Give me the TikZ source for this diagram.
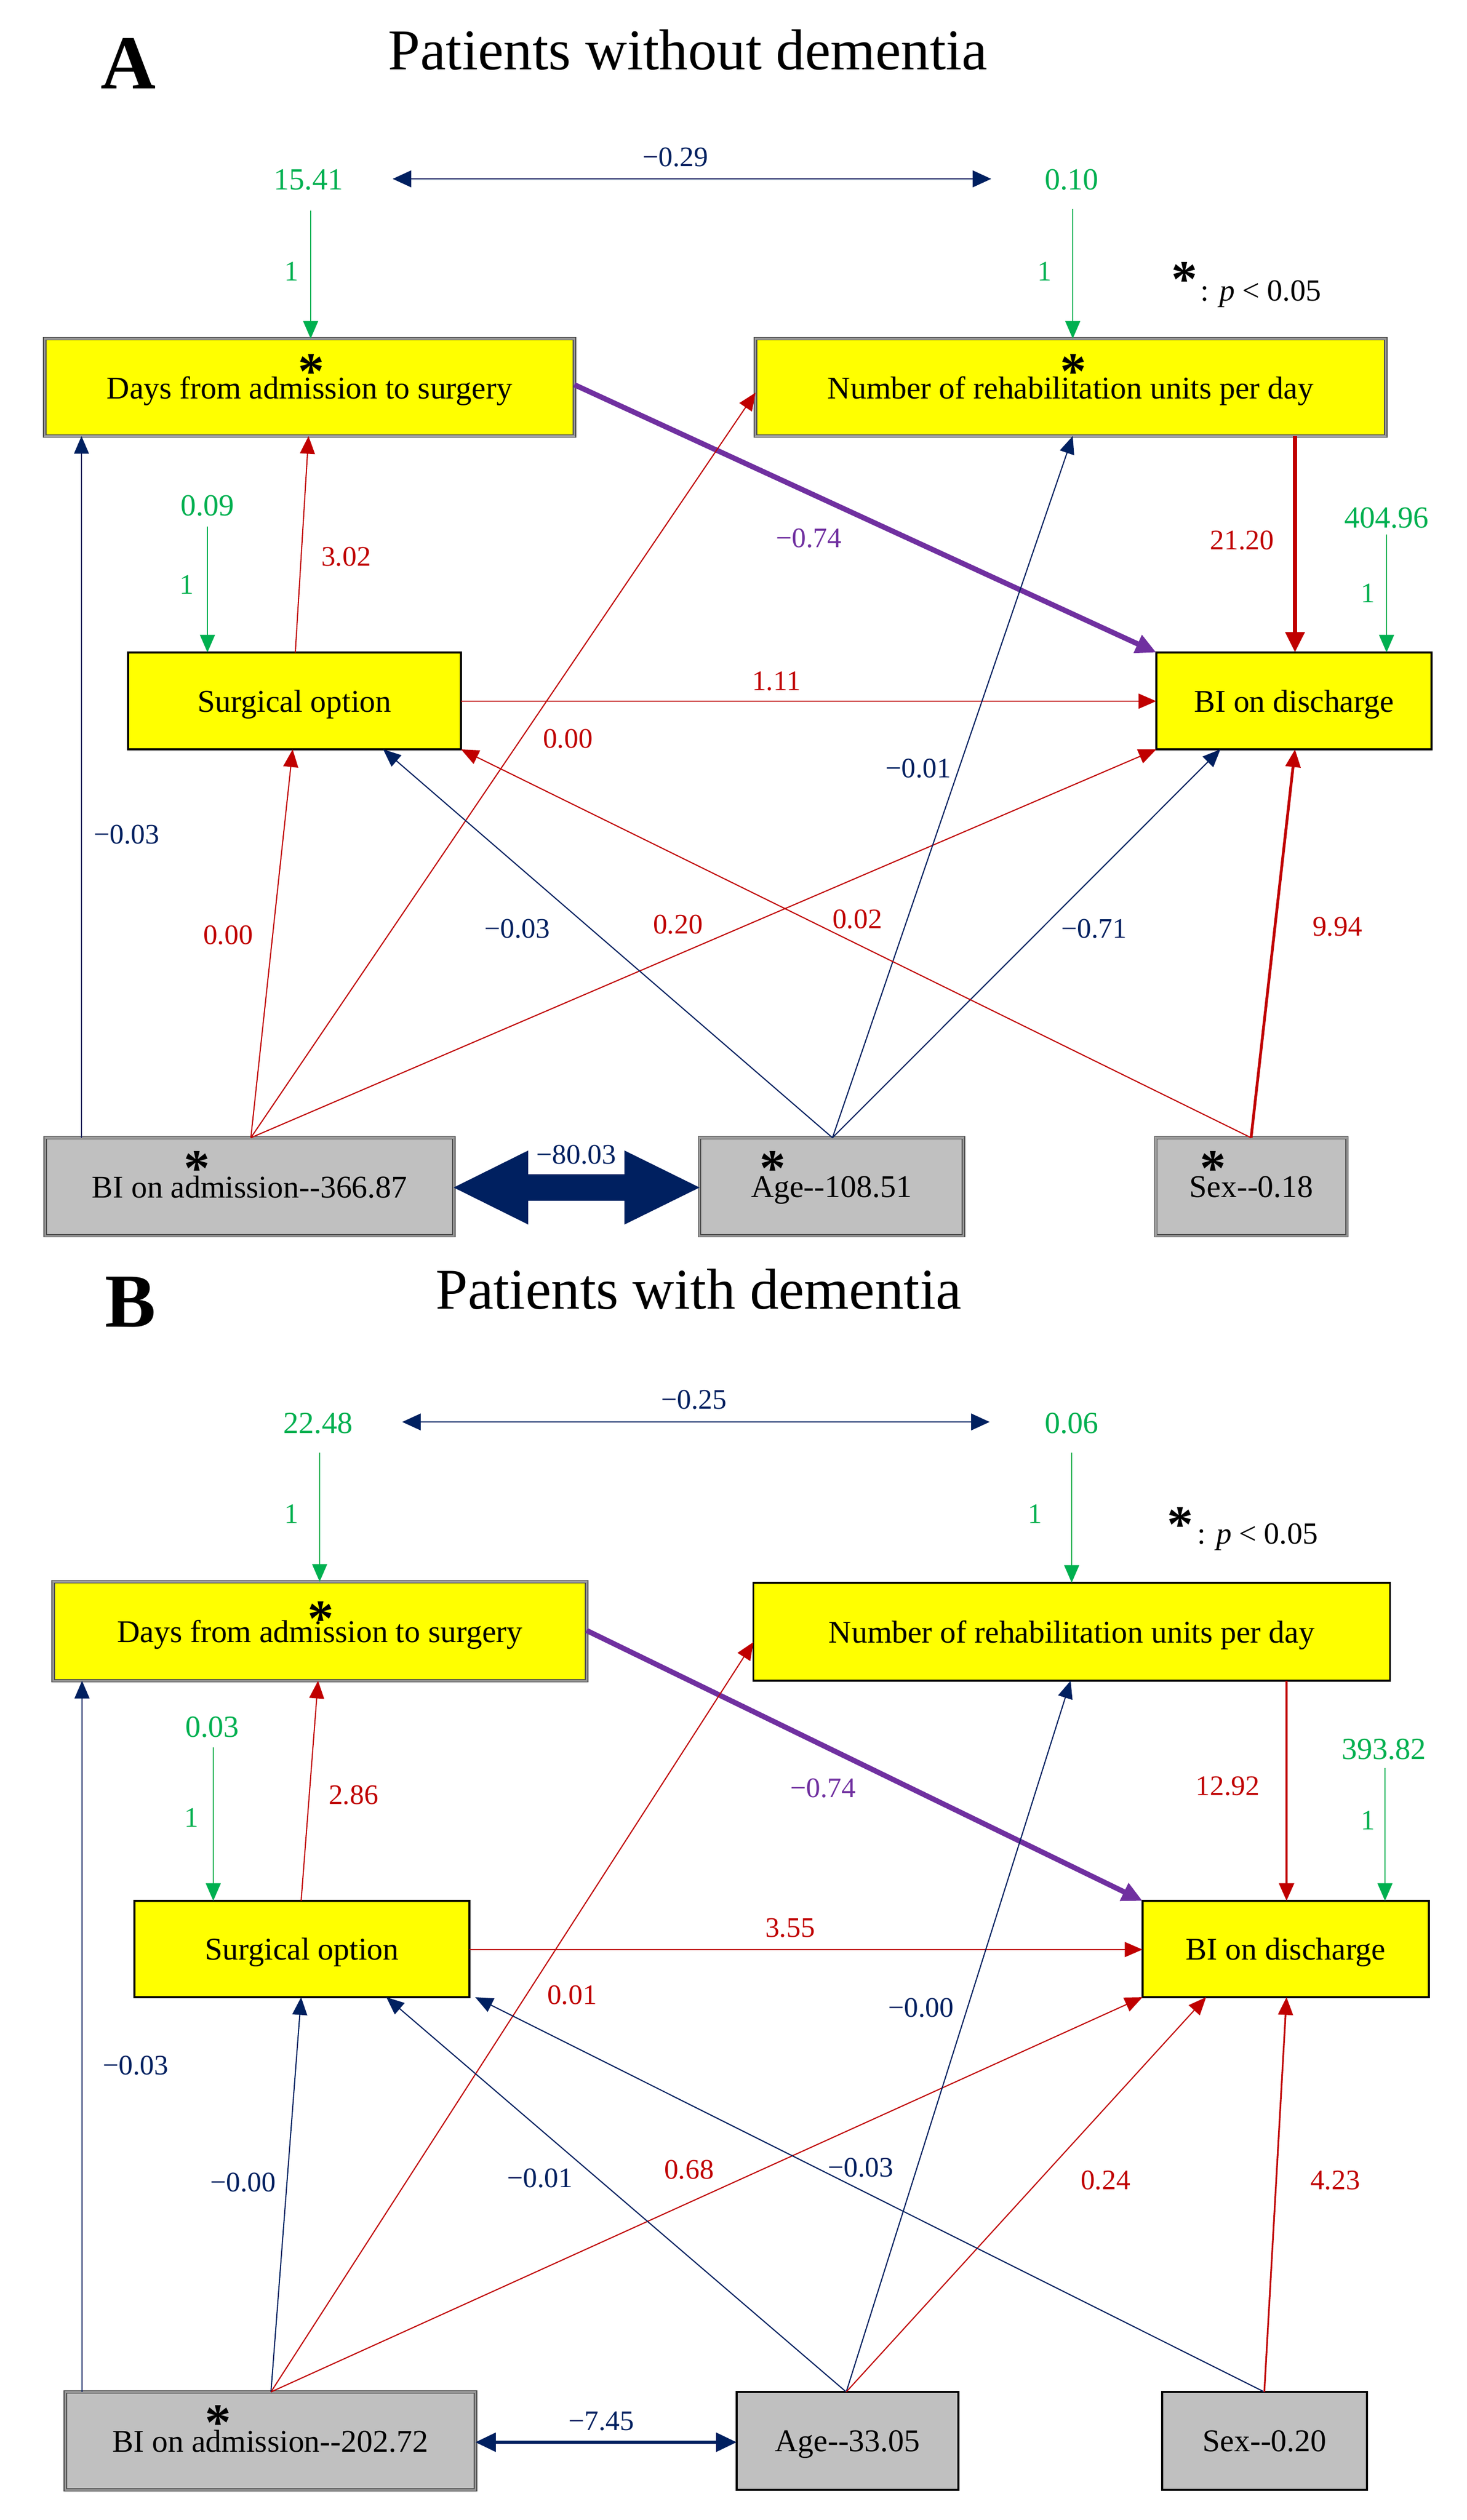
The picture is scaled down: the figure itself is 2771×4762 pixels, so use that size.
\documentclass[tikz,border=0pt]{standalone}
\usepackage{fontspec}
\setmainfont{Liberation Serif}
\usetikzlibrary{arrows.meta,calc}
\definecolor{cred}{HTML}{C00000}
\definecolor{cnavy}{HTML}{002060}
\definecolor{cgreen}{HTML}{00B050}
\definecolor{cpurple}{HTML}{7030A0}
\definecolor{cyel}{HTML}{FFFF00}
\definecolor{cgray}{HTML}{C0C0C0}
\newcommand\boxfs{\fontsize{17}{20}\selectfont}
\newcommand\labfs{\fontsize{15.2}{18}\selectfont}
\newcommand\grnfs{\fontsize{16.5}{19}\selectfont}
\newcommand\astfs{\fontsize{28}{30}\selectfont\bfseries}
\begin{document}
\begin{tikzpicture}[x=0.01cm,y=-0.01cm,
  bx/.style={rectangle,inner sep=0pt,outer sep=0pt,font=\boxfs,text=black,text depth=0pt},
  plainb/.style={bx,draw=black,line width=1pt},
  sigb/.style={bx,draw=black!70,double=black!40,double distance=0.9pt,line width=0.5pt},
  yel/.style={fill=cyel},
  gry/.style={fill=cgray},
  arr/.style={-{Triangle[length=9.5pt,width=8pt]}},
  rl/.style={draw=cred,line width=0.6pt,arr},
  nl/.style={draw=cnavy,line width=0.6pt,arr},
  gl/.style={draw=cgreen,line width=0.8pt,arr},
  pl/.style={draw=cpurple,line width=2.8pt,-{Triangle[length=11pt,width=10pt]}},
  covl/.style={draw=cnavy,line width=0.7pt,{Triangle[length=10pt,width=9pt]}-{Triangle[length=10pt,width=9pt]}},
  rlab/.style={font=\labfs,text=cred,inner sep=1pt},
  nlab/.style={font=\labfs,text=cnavy,inner sep=1pt},
  plab/.style={font=\labfs,text=cpurple,inner sep=1pt},
  glab/.style={font=\grnfs,text=cgreen,inner sep=1pt},
  onelab/.style={font=\labfs,text=cgreen,inner sep=1pt},
  ast/.style={font=\astfs,inner sep=0pt},
  ttl/.style={font=\fontsize{31}{34}\selectfont,inner sep=0pt},
  pan/.style={font=\fontsize{41}{44}\selectfont\bfseries,inner sep=0pt},
  leg/.style={font=\fontsize{16.5}{20}\selectfont,inner sep=0pt,anchor=base west}
]
\useasboundingbox (0,0) rectangle (2771,4762);
\fill[white] (0,0) rectangle (2771,4762);

% ================= Panel A =================
\node[pan] (panA) at (243,120) {A};
\node[ttl] (titA) at (1300,94) {Patients without dementia};

\node[sigb,yel,minimum width=10cm,minimum height=1.84cm] (daysA) at (585,732) {Days from admission to surgery};
\node[sigb,yel,minimum width=11.9cm,minimum height=1.84cm] (numA) at (2023,732) {Number of rehabilitation units per day};
\node[plainb,yel,minimum width=6.29cm,minimum height=1.83cm] (surgA) at (556.5,1324.5) {Surgical option};
\node[plainb,yel,minimum width=5.2cm,minimum height=1.83cm] (bidA) at (2445,1324.5) {BI on discharge};
\node[sigb,gry,minimum width=7.71cm,minimum height=1.85cm] (biaA) at (471.5,2242.5) {BI on admission-{}-366.87};
\node[sigb,gry,minimum width=4.98cm,minimum height=1.85cm] (ageA) at (1571,2242.5) {Age-{}-108.51};
\node[sigb,gry,minimum width=3.61cm,minimum height=1.85cm] (sexA) at (2364.5,2242.5) {Sex-{}-0.18};

\node[ast] (astA1) at (588,702) {*};
\node[ast] (astA2) at (2028,702) {*};
\node[ast] (astA3) at (372,2208) {*};
\node[ast] (astA4) at (1460,2208) {*};
\node[ast] (astA5) at (2292,2208) {*};

\node[ast] (legAast) at (2238,528) {*};
\node[leg] (legA) at (2268,568) {: \textit{p} < 0.05};

% variance labels
\node[glab] (vA1) at (583,340) {15.41};
\node[glab] (vA2) at (2025,340) {0.10};
\node[glab] (vA3) at (392,956) {0.09};
\node[glab] (vA4) at (2620,979) {404.96};
\coordinate (gA1) at (587,398);
\coordinate (gA2) at (2027,395);
\coordinate (gA3) at (392,995);
\coordinate (gA4) at (2620,1010);
\draw[gl] (gA1) -- (daysA.north -| gA1);
\draw[gl] (gA2) -- (numA.north -| gA2);
\draw[gl] (gA3) -- (surgA.north -| gA3);
\draw[gl] (gA4) -- (bidA.north -| gA4);
\node[onelab] (oA1) at (551,513) {1};
\node[onelab] (oA2) at (1974,513) {1};
\node[onelab] (oA3) at (353,1105) {1};
\node[onelab] (oA4) at (2585,1121) {1};

% covariance
\coordinate (cA1) at (742,338);
\coordinate (cA2) at (1873,338);
\draw[covl] (cA1) -- (cA2);
\node[nlab] (covlabA) at (1276,297) {−0.29};

% paths
\draw[pl] (daysA.east |- 0,727) -- (bidA.north west);
\node[plab] at (1528,1017) {−0.74};
\draw[rl,line width=2.5pt,-{Triangle[length=11pt,width=10pt]}] (numA.south -| 2447,0) -- (bidA.north -| 2447,0);
\node[rlab] at (2347,1021) {21.20};
\draw[rl] (surgA.north -| 558,0) -- (daysA.south -| 583,0);
\node[rlab] at (654,1052) {3.02};
\draw[nl] (biaA.north -| 154,0) -- (daysA.south -| 154,0);
\node[nlab] at (239,1577) {−0.03};
\draw[rl,line width=0.8pt] (surgA.east |- 0,1325) -- (bidA.west |- 0,1325);
\node[rlab] at (1467,1287) {1.11};
\draw[rl] (biaA.north -| 474,0) -- (numA.west |- 0,742);
\node[rlab] at (1073,1396) {0.00};
\draw[rl] (biaA.north -| 474,0) -- (surgA.south -| 553,0);
\node[rlab] at (431,1767) {0.00};
\draw[rl] (biaA.north -| 474,0) -- (bidA.south west);
\node[rlab] at (1281,1747) {0.20};
\draw[nl] (ageA.north -| 1573,0) -- (surgA.south -| 724,0);
\node[nlab] at (977,1755) {−0.03};
\draw[nl] (ageA.north -| 1573,0) -- (numA.south -| 2027,0);
\node[nlab] at (1735,1452) {−0.01};
\draw[nl] (ageA.north -| 1573,0) -- (bidA.south -| 2306,0);
\node[nlab] at (2067,1755) {−0.71};
\draw[rl] (sexA.north -| 2364,0) -- (surgA.south east);
\node[rlab] at (1620,1737) {0.02};
\draw[rl,line width=1.5pt] (sexA.north -| 2364,0) -- (bidA.south -| 2447,0);
\node[rlab] at (2527,1751) {9.94};

% big double arrow
\coordinate (bL) at (biaA.east |- 0,2244);
\coordinate (bR) at (ageA.west |- 0,2244);
\fill[cnavy] (bL) -- ($(bL)+(141,-70)$) -- ($(bL)+(141,-25)$) -- ($(bR)+(-142,-25)$) -- ($(bR)+(-142,-70)$) -- (bR)
  -- ($(bR)+(-142,70)$) -- ($(bR)+(-142,25)$) -- ($(bL)+(141,25)$) -- ($(bL)+(141,70)$) -- cycle;
\node[nlab] at (1089,2182) {−80.03};

% ================= Panel B =================
\node[pan] (panB) at (247,2460) {B};
\node[ttl] (titB) at (1320,2436) {Patients with dementia};

\node[sigb,yel,minimum width=10.07cm,minimum height=1.87cm] (daysB) at (604.5,3082.5) {Days from admission to surgery};
\node[plainb,yel,minimum width=12.02cm,minimum height=1.85cm] (numB) at (2025,3083.5) {Number of rehabilitation units per day};
\node[plainb,yel,minimum width=6.33cm,minimum height=1.82cm] (surgB) at (570.5,3683) {Surgical option};
\node[plainb,yel,minimum width=5.41cm,minimum height=1.82cm] (bidB) at (2429.5,3683) {BI on discharge};
\node[sigb,gry,minimum width=7.74cm,minimum height=1.85cm] (biaB) at (511,4612.5) {BI on admission-{}-202.72};
\node[plainb,gry,minimum width=4.19cm,minimum height=1.85cm] (ageB) at (1601.5,4612.5) {Age-{}-33.05};
\node[plainb,gry,minimum width=3.87cm,minimum height=1.85cm] (sexB) at (2389.5,4612.5) {Sex-{}-0.20};

\node[ast] (astB1) at (606,3059) {*};
\node[ast] (astB2) at (412,4578) {*};

\node[ast] (legBast) at (2230,2881) {*};
\node[leg] (legB) at (2262,2917) {: \textit{p} < 0.05};

\node[glab] (vB1) at (601,2690) {22.48};
\node[glab] (vB2) at (2025,2690) {0.06};
\node[glab] (vB3) at (401,3264) {0.03};
\node[glab] (vB4) at (2615,3306) {393.82};
\coordinate (gB1) at (604,2745);
\coordinate (gB2) at (2025,2745);
\coordinate (gB3) at (403,3302);
\coordinate (gB4) at (2617,3341);
\draw[gl] (gB1) -- (daysB.north -| gB1);
\draw[gl] (gB2) -- (numB.north -| gB2);
\draw[gl] (gB3) -- (surgB.north -| gB3);
\draw[gl] (gB4) -- (bidB.north -| gB4);
\node[onelab] (oB1) at (551,2861) {1};
\node[onelab] (oB2) at (1956,2861) {1};
\node[onelab] (oB3) at (362,3435) {1};
\node[onelab] (oB4) at (2585,3440) {1};

\coordinate (cB1) at (760,2687);
\coordinate (cB2) at (1870,2687);
\draw[covl] (cB1) -- (cB2);
\node[nlab] (covlabB) at (1311,2645) {−0.25};

\draw[pl] (daysB.east |- 0,3081) -- (bidB.north west);
\node[plab] at (1555,3379) {−0.74};
\draw[rl,line width=1.4pt] (numB.south -| 2431,0) -- (bidB.north -| 2431,0);
\node[rlab] at (2320,3375) {12.92};
\draw[rl] (surgB.north -| 569,0) -- (daysB.south -| 601,0);
\node[rlab] at (668,3392) {2.86};
\draw[nl] (biaB.north -| 155,0) -- (daysB.south -| 155,0);
\node[nlab] at (256,3903) {−0.03};
\draw[rl,line width=0.8pt] (surgB.east |- 0,3684) -- (bidB.west |- 0,3684);
\node[rlab] at (1493,3643) {3.55};
\draw[rl] (biaB.north -| 512,0) -- (numB.west |- 0,3103);
\node[rlab] at (1081,3770) {0.01};
\draw[nl] (biaB.north -| 512,0) -- (surgB.south -| 569,0);
\node[nlab] at (459,4124) {−0.00};
\draw[rl] (biaB.north -| 512,0) -- (bidB.south west);
\node[rlab] at (1302,4100) {0.68};
\draw[nl] (ageB.north -| 1599,0) -- (surgB.south -| 730,0);
\node[nlab] at (1020,4116) {−0.01};
\draw[nl] (ageB.north -| 1599,0) -- (numB.south -| 2023,0);
\node[nlab] at (1740,3794) {−0.00};
\draw[rl] (ageB.north -| 1599,0) -- (bidB.south -| 2279,0);
\node[rlab] at (2089,4120) {0.24};
\draw[nl] (sexB.north -| 2389,0) -- (surgB.south -| 898,0);
\node[nlab] at (1626,4096) {−0.03};
\draw[rl,line width=0.9pt] (sexB.north -| 2389,0) -- (bidB.south -| 2431,0);
\node[rlab] at (2523,4120) {4.23};

\draw[draw=cnavy,line width=1.8pt,{Triangle[length=11pt,width=10pt]}-{Triangle[length=11pt,width=10pt]}] (biaB.east |- 0,4615) -- (ageB.west |- 0,4615);
\node[nlab] at (1136,4575) {−7.45};
\end{tikzpicture}
\end{document}
